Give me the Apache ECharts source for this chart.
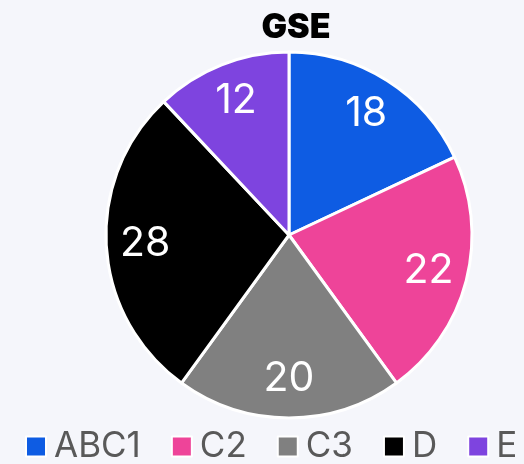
<!DOCTYPE html>
<html>
<head>
<meta charset="utf-8">
<script src="https://cdn.jsdelivr.net/npm/echarts@6/dist/echarts.min.js"></script>
<style>
  html, body { margin: 0; padding: 0; background: #f5f6fb; }
  #chart { width: 524px; height: 464px; }
</style>
</head>
<body>
<div id="chart"></div>
<script>
const categories = ['ABC1', 'C2', 'C3', 'D', 'E']
const values = [18, 22, 20, 28, 12]
const colors = ['#0e5ce3', '#ee4499', '#808080', '#000000', '#7e44df']

const chart = echarts.init(document.getElementById('chart'))

const pieData = categories.map((name, i) => ({
  name,
  value: values[i],
  itemStyle: { color: colors[i] }
}))

chart.setOption({
  backgroundColor: '#f5f6fb',
  textStyle: { fontFamily: 'Inter' },
  title: {
    text: 'GSE',
    left: 291,
    top: 6,
    textAlign: 'center',
    textStyle: { fontFamily: 'Inter', fontWeight: 900, fontSize: 34, color: '#000' }
  },
  legend: {
    data: categories,
    bottom: -5,
    left: 20,
    itemWidth: 20,
    itemHeight: 20,
    itemGap: 30,
    icon: 'rect',
    itemStyle: { borderColor: '#fff', borderWidth: 2 },
    textStyle: { fontFamily: 'Inter', fontSize: 35, color: '#595959', padding: [0, 0, 0, 3] }
  },
  series: [
    {
      // 饼图本体
      type: 'pie',
      center: [289, 235],
      radius: [0, 183],
      startAngle: 90,
      clockwise: true,
      label: { show: false },
      labelLine: { show: false },
      itemStyle: { borderColor: '#fff', borderWidth: 3 },
      emphasis: { disabled: true },
      data: pieData
    },
    {
      // 只用来放标签
      type: 'pie',
      center: [289, 235],
      radius: [99, 183],
      startAngle: 90,
      clockwise: true,
      silent: true,
      legendHoverLink: false,
      itemStyle: { color: 'transparent', borderWidth: 0 },
      label: {
        show: true,
        position: 'inside',
        formatter: '{c}',
        fontFamily: 'Inter',
        fontSize: 41,
        color: '#fff'
      },
      labelLine: { show: false },
      data: categories.map((name, i) => ({ name: name + '_lbl', value: values[i] }))
    }
  ]
})
</script>
</body>
</html>
